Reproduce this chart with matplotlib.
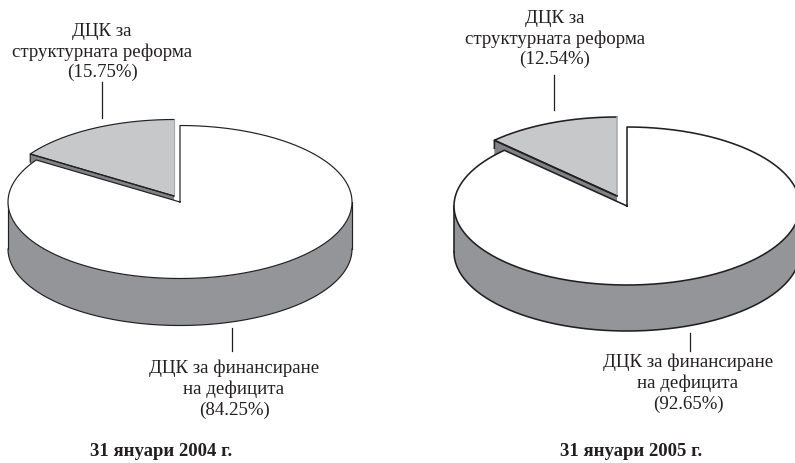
"""Two exploded 3D-look pies: ДЦК shares at Jan 2004 and Jan 2005."""
import matplotlib
matplotlib.use("Agg")
import matplotlib.pyplot as plt
import numpy as np

plt.rcParams["font.family"] = ["Liberation Serif", "DejaVu Serif"]

# data as printed; the 2005 shares do not add up to 100 in the source
REFORM_SHARE = [15.75, 12.54]
DEFICIT_SHARE = [84.25, 92.65]
YEAR_TITLES = ["31 януари 2004 г.", "31 януари 2005 г."]
REFORM_LABEL = "ДЦК за\nструктурната реформа"
DEFICIT_LABEL = "ДЦК за финансиране\nна дефицита"

# layout, in picture pixels
PIES = [
    dict(cx=180, cy=203, rx=172, ry=76.5, depth=47, dx=-6, dy=-6, lw=0.85),
    dict(cx=627, cy=207, rx=173, ry=79, depth=46, dx=-10, dy=-10, lw=1.15),
]
TOP_TEXT = [(102, 77), (555, 64)]
TOP_LEADER = [(102, 83, 119), (554, 76, 111)]
BOTTOM_TEXT = [(234, 360), (688, 354)]
BOTTOM_LEADER = [(232, 329, 352), (690, 334, 352)]
TITLE_POS = [(161, 452), (631, 452)]

SIDE = "#939598"
SMALL_SIDE = "#808285"
SLICE = "#c7c8ca"
INK = "#231f20"
TEXT_SIZE = 13.55


def arc(p, start, stop, n=200):
    # angles in degrees, clockwise from the top of the ellipse
    t = np.radians(np.linspace(start, stop, n))
    return p["cx"] + p["rx"] * np.sin(t), p["cy"] - p["ry"] * np.cos(t)


def draw_pie(ax, p, share):
    sweep = share * 3.6
    lw = p["lw"]
    off = dict(p, cx=p["cx"] + p["dx"], cy=p["cy"] + p["dy"])

    # small slice: radial wall first, then its top
    ex, ey = arc(off, -sweep, -sweep, 1)
    ax.fill([off["cx"], ex[0], ex[0], off["cx"]],
            [off["cy"], ey[0], ey[0] + p["depth"], off["cy"] + p["depth"]],
            color=SMALL_SIDE, lw=0, zorder=1)
    x, y = arc(off, -sweep, 0)
    ax.fill(np.r_[off["cx"], x], np.r_[off["cy"], y], color=SLICE, lw=0, zorder=2)
    ax.plot(np.r_[off["cx"], x], np.r_[off["cy"], y], color=INK, lw=lw, zorder=3)
    ax.plot([off["cx"], off["cx"]], [off["cy"], off["cy"] - off["ry"]],
            color="#a7a9ac", lw=lw, zorder=3)
    ax.plot([off["cx"], ex[0], ex[0]], [off["cy"], ey[0], ey[0] + 8],
            color=INK, lw=lw, zorder=3)

    # big slice: outer wall, then its top
    x, y = arc(p, 90, 270)
    ax.fill(np.r_[x, x[::-1]], np.r_[y, y[::-1] + p["depth"]],
            color=SIDE, lw=0, zorder=4)
    ax.plot(x, y + p["depth"], color=INK, lw=lw, zorder=5)
    ax.plot([x[0], x[0]], [y[0], y[0] + p["depth"]], color=INK, lw=lw, zorder=5)
    ax.plot([x[-1], x[-1]], [y[-1], y[-1] + p["depth"]], color=INK, lw=lw, zorder=5)
    x, y = arc(p, 0, 360 - sweep, 400)
    ax.fill(np.r_[p["cx"], x], np.r_[p["cy"], y], color="white", lw=0, zorder=6)
    ax.plot(np.r_[p["cx"], x, p["cx"]], np.r_[p["cy"], y, p["cy"]],
            color=INK, lw=lw, zorder=7)


def main():
    fig = plt.figure(figsize=(7.95, 4.64), dpi=100)
    ax = fig.add_axes([0, 0, 1, 1])
    ax.set_xlim(0, 795)
    ax.set_ylim(464, 0)
    ax.axis("off")

    for i, p in enumerate(PIES):
        draw_pie(ax, p, REFORM_SHARE[i])

        tx, ty = TOP_TEXT[i]
        ax.text(tx, ty, f"{REFORM_LABEL}\n({REFORM_SHARE[i]:.2f}%)", ha="center",
                va="baseline", fontsize=TEXT_SIZE, color=INK, linespacing=1.24)
        lx, y0, y1 = TOP_LEADER[i]
        ax.plot([lx, lx], [y0, y1], color=INK, lw=0.9)

        tx, ty = BOTTOM_TEXT[i]
        ax.text(tx, ty, f"{DEFICIT_LABEL}\n({DEFICIT_SHARE[i]:.2f}%)", ha="center",
                va="top", fontsize=TEXT_SIZE, color=INK, linespacing=1.24)
        lx, y0, y1 = BOTTOM_LEADER[i]
        ax.plot([lx, lx], [y0, y1], color=INK, lw=0.9)

        tx, ty = TITLE_POS[i]
        ax.text(tx, ty, YEAR_TITLES[i], ha="center", va="center", fontsize=13.5,
                fontweight="bold", color=INK)

    fig.savefig("out.png", dpi=100, facecolor="white")


if __name__ == "__main__":
    main()
